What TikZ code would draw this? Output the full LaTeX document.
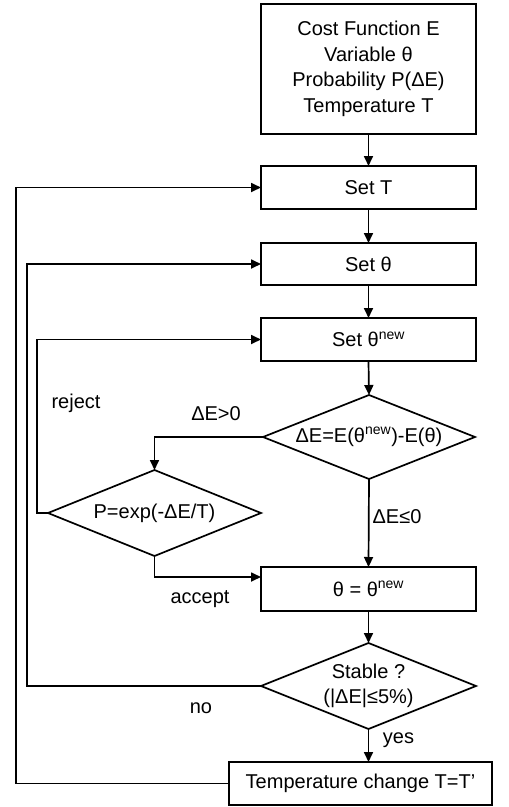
\documentclass[tikz,border=0pt]{standalone}
\usepackage{fontspec}
\setmainfont{Liberation Sans}
\usetikzlibrary{arrows.meta,shapes.geometric}
\tikzset{
  box/.style={draw, rectangle, inner sep=0pt, outer sep=0pt, minimum width=215pt, align=center},
  dia/.style={draw, diamond, inner sep=0pt, outer sep=0pt, shape aspect=2.5, align=center},
  lbl/.style={inner sep=0pt},
  flow/.style={->}
}
\begin{document}
\begin{tikzpicture}[x=1pt,y=-1pt,
  font=\fontsize{20}{25.5}\selectfont,
  line width=1.7pt,
  >={Triangle[length=10pt,width=9pt]}]
\useasboundingbox (0,0) rectangle (509,807);
% coordinates for loop verticals
\coordinate (L1) at (16,0);
\coordinate (L2) at (27,0);
\coordinate (L3) at (37,0);
% nodes
\node[box, minimum height=130pt] (top) at (368.5,69) {Cost Function E\\Variable θ\\Probability P(ΔE)\\Temperature T};
\node[box, minimum height=43pt] (setT) at (368.5,187.5) {Set T};
\node[box, minimum height=42pt] (setth) at (368.5,264) {Set θ};
\node[box, minimum height=43pt] (setnew) at (368.5,339.5) {Set θ\textsuperscript{new}};
\node[dia, minimum width=212pt, minimum height=84pt] (dE) at (369,437) {ΔE=E(θ\textsuperscript{new})-E(θ)};
\node[dia, minimum width=213pt, minimum height=86pt] (P) at (154.5,513) {P=exp(-ΔE/T)};
\node[box, minimum height=44pt] (upd) at (368.5,589) {θ = θ\textsuperscript{new}};
\node[dia, minimum width=215pt, minimum height=86pt] (stab) at (368.5,686) {Stable ?\\(|ΔE|≤5\%)};
\node[box, minimum width=263pt, minimum height=43pt] (temp) at (360.5,783.5) {Temperature change T=T’};
% labels
\node[lbl] (lreject) at (76,403) {reject};
\node[lbl] (lpos) at (216,414) {ΔE>0};
\node[lbl] (lneg) at (397,517) {ΔE≤0};
\node[lbl] (laccept) at (200,599) {accept};
\node[lbl] (lno) at (201,708) {no};
\node[lbl] (lyes) at (398.5,740) {yes};
% main flow
\draw[flow] (top.south) -- (setT.north);
\draw[flow] (setT.south) -- (setth.north);
\draw[flow] (setth.south) -- (setnew.north);
\draw[flow] (setnew.south) -- (dE.north);
\draw[flow] (dE.south) -- (upd.north);
\draw[flow] (upd.south) -- (stab.north);
\draw[flow] (stab.south) -- (stab.south |- temp.north);
% branches
\draw[flow] (dE.west) -| (P.north);
\draw[flow] (P.south) |- ([yshift=12pt]upd.west);
% loops
\draw[flow] (P.west) -- (P.west -| L3) |- (setnew.west);
\draw[flow] (stab.west) -- (stab.west -| L2) |- (setth.west);
\draw[flow] (temp.west) -- (temp.west -| L1) |- (setT.west);
\end{tikzpicture}
\end{document}
